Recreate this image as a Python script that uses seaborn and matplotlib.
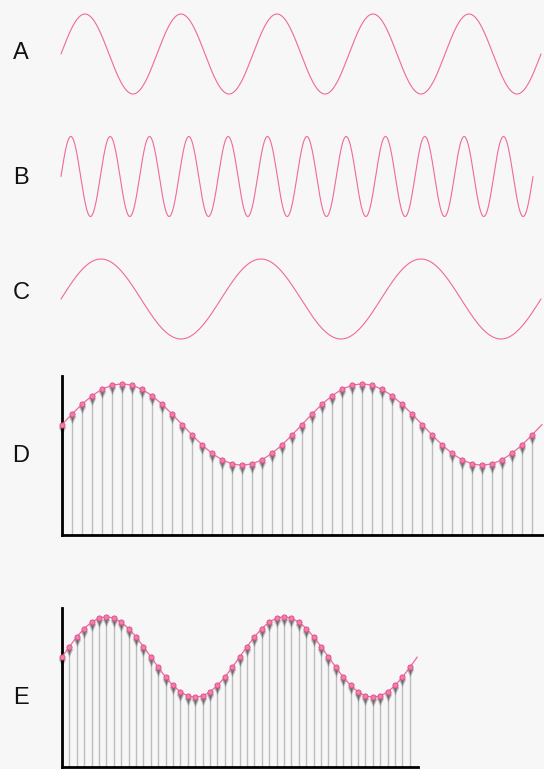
import numpy as np
import pandas as pd
import matplotlib
matplotlib.use('Agg')
import matplotlib.pyplot as plt
import seaborn as sns
from matplotlib.transforms import offset_copy

# Panel data
labels = ['A', 'B', 'C', 'D', 'E']
wave_cycles = [5, 12, 3]            # cycles shown in panels A, B, C
sampled_cycles = 2                  # cycles shown in panels D and E
# one period of the sampled signal (24 samples), read off panels D / E
one_period = [0.00, 0.26, 0.50, 0.71, 0.87, 0.97, 1.00, 0.97, 0.87, 0.71, 0.50, 0.26,
              0.00, -0.26, -0.50, -0.71, -0.87, -0.97, -1.00, -0.97, -0.87, -0.71, -0.50, -0.26]
samples = one_period * sampled_cycles

W, H = 544, 769
BG = '#f7f7f7'
PINK = '#f068a0'

sns.set_theme(style='white', rc={'axes.facecolor': BG, 'figure.facecolor': BG})
plt.rcParams['font.family'] = ['Liberation Sans', 'DejaVu Sans']

fig = plt.figure(figsize=(W / 100, H / 100), dpi=100)


def px_axes(left, top, right, bottom):
    # place an axes using pixel edges (origin top-left)
    return fig.add_axes([left / W, 1 - bottom / H, (right - left) / W, (bottom - top) / H])


# A, B, C: plain sine waves
wave_boxes = [(61, 14, 541, 94), (61, 136.5, 533, 216.5), (61, 259, 541, 339)]
for n, box in zip(wave_cycles, wave_boxes):
    ax = px_axes(*box)
    t = np.linspace(0, n, 1500)
    df = pd.DataFrame({'t': t, 'v': np.sin(2 * np.pi * t)})
    sns.lineplot(data=df, x='t', y='v', ax=ax, color=PINK, lw=0.8, clip_on=False)
    ax.set_xlim(0, n)
    ax.set_ylim(-1, 1)
    ax.axis('off')


# D, E: sampled sine with stems
def sampled_panel(box, xmax, ylim):
    ax = px_axes(*box)
    n = len(samples)
    k = np.arange(n)
    ax.set_xlim(0, xmax)
    ax.set_ylim(*ylim)
    ax.vlines(k, ylim[0], samples, color='#bdbdbd', lw=1.0, zorder=1)
    t = np.linspace(0, n, 800)
    df = pd.DataFrame({'t': t, 'v': np.sin(2 * np.pi * t / len(one_period))})
    sns.lineplot(data=df, x='t', y='v', ax=ax, color=PINK, lw=0.9, zorder=3, clip_on=False)
    # soft drop shadow under each sample marker
    for dy, size, alpha in [(-6, 34, 0.18), (-5, 24, 0.25), (-4, 14, 0.35)]:
        shadow = offset_copy(ax.transData, fig=fig, x=0, y=dy, units='dots')
        ax.scatter(k, samples, marker='v', s=size, color='#333333', alpha=alpha,
                   linewidths=0, transform=shadow, zorder=2, clip_on=False)
    ax.scatter(k, samples, marker='o', s=14, color='#f47cac', edgecolors='#dc4a84',
               linewidths=0.6, zorder=4, clip_on=False)
    for s in ['top', 'right']:
        ax.spines[s].set_visible(False)
    for s in ['left', 'bottom']:
        ax.spines[s].set_color('black')
        ax.spines[s].set_linewidth(2)
    ax.set_xticks([])
    ax.set_yticks([])
    ax.set_xlabel('')
    ax.set_ylabel('')
    return ax


sampled_panel((62, 376, 544, 535), 48.2, (-2.73, 1.2))
sampled_panel((62, 608, 418, 767), 48.1, (-2.75, 1.225))

# panel letters
label_y = [53, 178, 293, 456, 698]
for lab, y in zip(labels, label_y):
    fig.text(21 / W, 1 - y / H, lab, ha='center', va='center', fontsize=17, color='#111111')

fig.savefig('out.png', dpi=100, facecolor=BG)
